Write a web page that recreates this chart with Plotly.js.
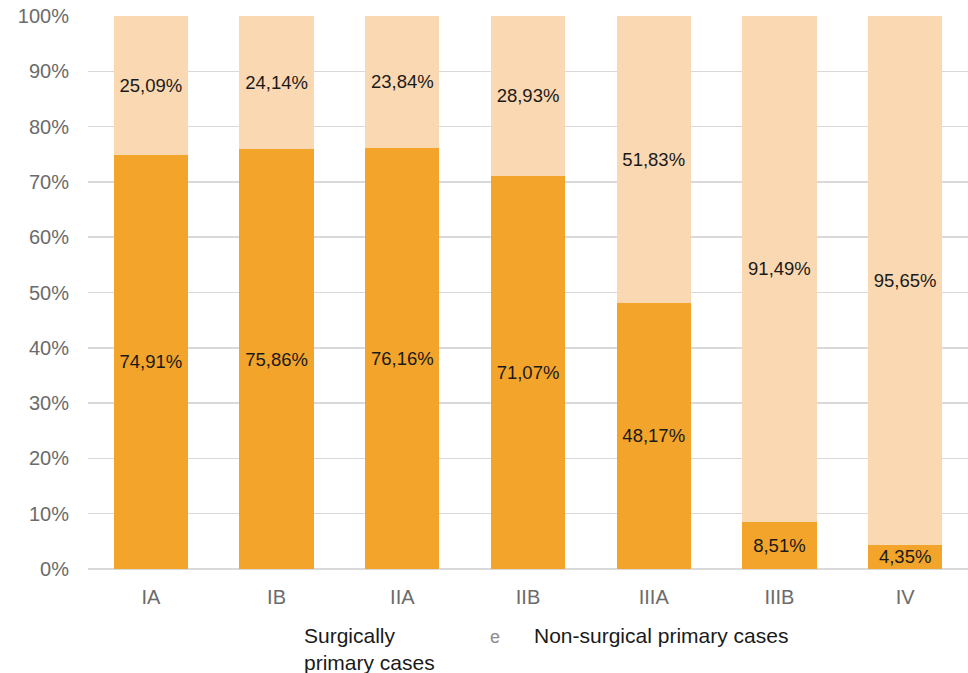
<!DOCTYPE html>
<html>
<head>
<meta charset="utf-8">
<script src="https://cdn.plot.ly/plotly-3.0.1.min.js"></script>
<style>html,body{margin:0;padding:0;background:#fff;}#chart{width:968px;height:673px;}</style>
</head>
<body>
<div id="chart"></div>
<script>
var stages = ["IA", "IB", "IIA", "IIB", "IIIA", "IIIB", "IV"];
var surgical = [74.91, 75.86, 76.16, 71.07, 48.17, 8.51, 4.35];
var nonSurgical = [25.09, 24.14, 23.84, 28.93, 51.83, 91.49, 95.65];
var seriesNames = ["Surgically<br>primary cases", "Non-surgical primary cases"];
var yTicks = [0, 10, 20, 30, 40, 50, 60, 70, 80, 90, 100];

function fmt(v) { return v.toFixed(2).replace('.', ',') + '%'; }

var font = "'Liberation Sans', Arial, sans-serif";

var traces = [
  {
    type: 'bar', x: stages, y: surgical, name: seriesNames[0],
    marker: {color: '#F2A42B'},
    text: surgical.map(fmt), textposition: 'inside', insidetextanchor: 'middle',
    textfont: {family: font, size: 18.5, color: '#1a1a1a'},
    hoverinfo: 'skip'
  },
  {
    type: 'bar', x: stages, y: nonSurgical, name: seriesNames[1],
    marker: {color: '#FAD8B1'},
    text: nonSurgical.map(fmt), textposition: 'inside', insidetextanchor: 'middle',
    textfont: {family: font, size: 18.5, color: '#1a1a1a'},
    hoverinfo: 'skip'
  }
];

var layout = {
  width: 968, height: 673,
  margin: {l: 88, r: 0, t: 16, b: 104},
  barmode: 'stack',
  bargap: 0.41,
  showlegend: false,
  paper_bgcolor: '#fff', plot_bgcolor: '#fff',
  uniformtext: {mode: 'show', minsize: 18.5},
  font: {family: font},
  xaxis: {
    tickfont: {family: font, size: 20, color: '#6b6b6b'},
    showgrid: false, showline: false, ticks: '', ticklen: 0,
    ticklabelstandoff: 14,
    fixedrange: true
  },
  yaxis: {
    range: [0, 100], tickvals: yTicks, ticktext: yTicks.map(function(v){return v + '%';}),
    tickfont: {family: font, size: 20, color: '#6b6b6b'},
    showgrid: true, gridcolor: '#d9d9d9', gridwidth: 1.5,
    zeroline: true, zerolinecolor: '#d9d9d9', zerolinewidth: 1.5,
    showline: false, ticks: '', ticklabelstandoff: 18,
    fixedrange: true
  },
  annotations: [
    {xref: 'paper', yref: 'paper', x: 0.243, y: -0.095, xanchor: 'left', yanchor: 'top',
     text: seriesNames[0], align: 'left', showarrow: false,
     font: {family: font, size: 21, color: '#1a1a1a'}},
    {xref: 'paper', yref: 'paper', x: 0.4625, y: -0.123, xanchor: 'center', yanchor: 'middle',
     text: 'e', showarrow: false,
     font: {family: font, size: 18, color: '#8c8c8c'}},
    {xref: 'paper', yref: 'paper', x: 0.505, y: -0.095, xanchor: 'left', yanchor: 'top',
     text: seriesNames[1], align: 'left', showarrow: false,
     font: {family: font, size: 21, color: '#1a1a1a'}}
  ]
};

Plotly.newPlot('chart', traces, layout, {displayModeBar: false, staticPlot: true});
</script>
</body>
</html>
